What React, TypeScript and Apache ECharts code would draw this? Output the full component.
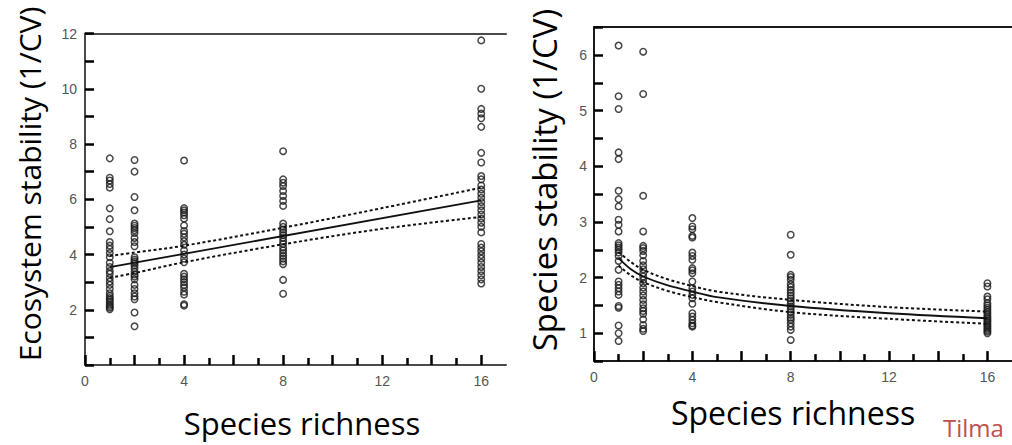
import React, { useEffect, useRef } from "react";
import * as echarts from "echarts";

// ---------- Data ----------
const richnessLevels = [1, 2, 4, 8, 16];
const ecoAt1 = [7.48, 6.78, 6.68, 6.55, 6.42, 5.67, 5.28, 4.84, 4.45, 4.32, 4.2, 4.05, 3.9, 3.7, 3.55, 3.4, 3.3, 3.15, 3.02, 2.9, 2.75, 2.6, 2.5, 2.42, 2.35, 2.28, 2.2, 2.14, 2.08, 2.02];
const ecoAt2 = [7.42, 7.0, 6.08, 5.6, 5.12, 5.04, 4.96, 4.88, 4.78, 4.6, 4.45, 4.3, 3.9, 3.82, 3.75, 3.68, 3.6, 3.5, 3.38, 3.28, 3.2, 3.1, 2.9, 2.75, 2.6, 2.48, 2.38, 1.9, 1.4];
const ecoAt4 = [7.4, 5.68, 5.6, 5.52, 5.42, 5.3, 5.05, 4.85, 4.75, 4.62, 4.48, 4.35, 4.15, 4.0, 3.85, 3.72, 3.3, 3.2, 3.1, 3.0, 2.9, 2.8, 2.65, 2.55, 2.2, 2.15];
const ecoAt8 = [7.74, 6.72, 6.6, 6.48, 6.3, 6.12, 5.94, 5.76, 5.12, 5.0, 4.9, 4.8, 4.7, 4.6, 4.48, 4.38, 4.25, 4.15, 4.05, 3.95, 3.85, 3.75, 3.65, 3.08, 2.58];
const ecoAt16 = [11.75, 10.0, 9.27, 9.1, 8.93, 8.62, 7.68, 7.33, 6.84, 6.72, 6.5, 6.35, 6.2, 6.05, 5.9, 5.75, 5.6, 5.45, 5.3, 5.15, 5.0, 4.8, 4.38, 4.25, 4.12, 3.98, 3.85, 3.7, 3.55, 3.4, 3.25, 3.1, 2.95];

const ecoFitX = [1, 16];
const ecoFit = [3.54, 5.96];
const ecoBandX = [1, 2, 4, 8, 12, 16];
const ecoUpper = [3.95, 4.07, 4.32, 4.97, 5.68, 6.42];
const ecoLower = [3.16, 3.33, 3.72, 4.37, 4.93, 5.36];

const spAt1 = [6.17, 5.26, 5.03, 4.25, 4.13, 3.56, 3.41, 3.28, 3.04, 2.95, 2.83, 2.62, 2.58, 2.54, 2.5, 2.45, 2.39, 2.3, 2.14, 1.93, 1.87, 1.81, 1.75, 1.69, 1.49, 1.46, 1.14, 1.0, 0.86];
const spAt2 = [6.06, 5.3, 3.47, 2.83, 2.57, 2.53, 2.48, 2.4, 2.3, 2.22, 2.15, 2.08, 2.02, 1.96, 1.9, 1.82, 1.75, 1.68, 1.6, 1.52, 1.45, 1.4, 1.35, 1.25, 1.15, 1.08, 1.04];
const spAt4 = [3.07, 2.92, 2.87, 2.75, 2.72, 2.45, 2.39, 2.32, 2.17, 2.13, 2.08, 1.93, 1.81, 1.75, 1.69, 1.63, 1.53, 1.36, 1.3, 1.24, 1.18, 1.14, 1.12];
const spAt8 = [2.77, 2.41, 2.05, 2.01, 1.96, 1.88, 1.83, 1.78, 1.73, 1.68, 1.63, 1.58, 1.53, 1.48, 1.43, 1.38, 1.33, 1.28, 1.24, 1.18, 1.12, 1.06, 0.88];
const spAt16 = [1.9, 1.84, 1.66, 1.61, 1.54, 1.5, 1.46, 1.42, 1.38, 1.34, 1.3, 1.27, 1.24, 1.21, 1.18, 1.15, 1.12, 1.09, 1.06, 1.03, 1.0];

const spCurveX = [1, 1.5, 2, 3, 4, 5, 8, 12, 16];
const spFit = [2.35, 2.15, 2.02, 1.86, 1.75, 1.65, 1.49, 1.36, 1.27];
const spUpper = [2.46, 2.28, 2.14, 1.97, 1.85, 1.75, 1.6, 1.47, 1.39];
const spLower = [2.22, 2.04, 1.92, 1.76, 1.65, 1.56, 1.38, 1.26, 1.17];

const xMajorTicks = [0, 2, 4, 6, 8, 10, 12, 14, 16];
const xMinorTicks = [1, 3, 5, 7, 9, 11, 13, 15];
const xTickLabels = [0, 4, 8, 12, 16];

const leftYTitle = "Ecosystem stability (1/CV)";
const rightYTitle = "Species stability (1/CV)";
const xTitle = "Species richness";
const credit = "Tilma";

const AXIS_FONT = "'Liberation Sans', Arial, sans-serif";
const TITLE_FONT = "'Open Sans', sans-serif";

function pts(levels: number[], groups: number[][]) {
  const out: number[][] = [];
  groups.forEach((g, i) => g.forEach((v) => out.push([levels[i], v])));
  return out;
}
function zip(xs: number[], ys: number[]) {
  return xs.map((x, i) => [x, ys[i]]);
}

export default function App() {
  const ref = useRef<HTMLDivElement>(null);
  useEffect(() => {
    if (!ref.current) return;
    const chart = echarts.init(ref.current, undefined, { renderer: "svg" });

    const axisColors = ["#4a4a4a", "#1a1a1a"];
    const tickColors = ["#000000", "#000000"];

    const xAxes: any[] = [];
    [0, 1].forEach((gi) => {
      const c = axisColors[gi];
      const tc = tickColors[gi];
      xAxes.push({
        type: "value", gridIndex: gi, min: 0, max: 17, position: "bottom",
        axisLine: { show: true, onZero: false, lineStyle: { color: c, width: 2 } },
        axisTick: { show: true, inside: true, length: 10, customValues: xMajorTicks, lineStyle: { color: tc, width: 2.5 } },
        axisLabel: { show: true, customValues: xTickLabels, margin: 9, fontSize: 14, color: "#555", fontFamily: AXIS_FONT },
        splitLine: { show: false },
      });
      xAxes.push({
        type: "value", gridIndex: gi, min: 0, max: 17, position: "bottom",
        axisLine: { show: false, onZero: false },
        axisTick: { show: true, inside: true, length: 7, customValues: xMinorTicks, lineStyle: { color: tc, width: 2.5 } },
        axisLabel: { show: false },
        splitLine: { show: false },
      });
      xAxes.push({
        type: "value", gridIndex: gi, min: 0, max: 17, position: "top",
        axisLine: { show: true, onZero: false, lineStyle: { color: c, width: 2 } },
        axisTick: { show: false }, axisLabel: { show: false }, splitLine: { show: false },
      });
    });

    const yAxes: any[] = [
      {
        type: "value", gridIndex: 0, min: 0, max: 12, interval: 1,
        axisLine: { show: true, onZero: false, lineStyle: { color: axisColors[0], width: 2 } },
        axisTick: { show: true, inside: true, length: 9, lineStyle: { color: tickColors[0], width: 2.5 } },
        axisLabel: {
          margin: 8, fontSize: 14, color: "#555", fontFamily: AXIS_FONT,
          formatter: (v: number) => (v > 0 && v % 2 === 0 ? String(v) : ""),
        },
        splitLine: { show: false },
      },
      {
        type: "value", gridIndex: 1, min: 0.5, max: 6.5, interval: 0.5,
        axisLine: { show: true, onZero: false, lineStyle: { color: axisColors[1], width: 2 } },
        axisTick: { show: true, inside: true, length: 9, lineStyle: { color: tickColors[1], width: 2.5 } },
        axisLabel: {
          margin: 7, fontSize: 14, color: "#555", fontFamily: AXIS_FONT,
          formatter: (v: number) => (Number.isInteger(v) ? String(v) : ""),
        },
        splitLine: { show: false },
      },
    ];

    const scatterStyle = { color: "rgba(0,0,0,0)", borderColor: "#1a1a1a", borderWidth: 1.5 };
    const solid = { color: "#111", width: 1.8, type: "solid" as const };
    const dotted = { color: "#111", width: 2, type: [3, 2.5] as any };

    const lineSeries = (xi: number, yi: number, data: number[][], style: any, smooth: boolean) => ({
      type: "line", xAxisIndex: xi, yAxisIndex: yi, data, showSymbol: false, symbol: "none",
      smooth: smooth ? 0.35 : false, lineStyle: style, z: 5, silent: true,
    });

    chart.setOption({
      animation: false,
      backgroundColor: "#ffffff",
      grid: [
        { left: 85, top: 33.5, width: 421, height: 331.5 },
        { left: 594, top: 27.2, width: 422, height: 333.9 },
      ],
      xAxis: xAxes,
      yAxis: yAxes,
      series: [
        {
          type: "scatter", xAxisIndex: 0, yAxisIndex: 0, symbol: "circle", symbolSize: 6.5,
          itemStyle: scatterStyle,
          data: pts(richnessLevels, [ecoAt1, ecoAt2, ecoAt4, ecoAt8, ecoAt16]),
        },
        lineSeries(0, 0, zip(ecoFitX, ecoFit), solid, false),
        lineSeries(0, 0, zip(ecoBandX, ecoUpper), dotted, true),
        lineSeries(0, 0, zip(ecoBandX, ecoLower), dotted, true),
        {
          type: "scatter", xAxisIndex: 3, yAxisIndex: 1, symbol: "circle", symbolSize: 6.5,
          itemStyle: scatterStyle,
          data: pts(richnessLevels, [spAt1, spAt2, spAt4, spAt8, spAt16]),
        },
        lineSeries(3, 1, zip(spCurveX, spFit), solid, true),
        lineSeries(3, 1, zip(spCurveX, spUpper), dotted, true),
        lineSeries(3, 1, zip(spCurveX, spLower), dotted, true),
      ],
      graphic: [
        {
          type: "text", x: 29, y: 184, rotation: Math.PI / 2,
          style: { text: leftYTitle, font: `30px ${TITLE_FONT}`, fill: "#000", align: "center", verticalAlign: "middle", textAlign: "center", textVerticalAlign: "middle" },
        },
        {
          type: "text", x: 544, y: 180, rotation: Math.PI / 2,
          style: { text: rightYTitle, font: `33px ${TITLE_FONT}`, fill: "#000", align: "center", verticalAlign: "middle", textAlign: "center", textVerticalAlign: "middle" },
        },
        {
          type: "text", x: 302, y: 423,
          style: { text: xTitle, font: `31px ${TITLE_FONT}`, fill: "#000", align: "center", verticalAlign: "middle", textAlign: "center", textVerticalAlign: "middle" },
        },
        {
          type: "text", x: 793, y: 412,
          style: { text: xTitle, font: `32px ${TITLE_FONT}`, fill: "#000", align: "center", verticalAlign: "middle", textAlign: "center", textVerticalAlign: "middle" },
        },
        {
          type: "text", x: 943, y: 427,
          style: { text: credit, font: `24px ${TITLE_FONT}`, fill: "#C0504D", align: "left", verticalAlign: "middle", textAlign: "left", textVerticalAlign: "middle" },
        },
      ],
    });
    return () => chart.dispose();
  }, []);

  return (
    <div
      ref={ref}
      style={{ position: "absolute", left: 0, top: 0, width: 1012, height: 445, background: "#fff" }}
    />
  );
}
